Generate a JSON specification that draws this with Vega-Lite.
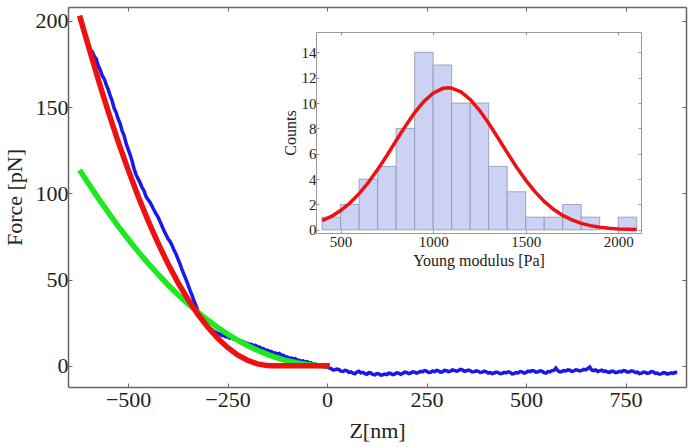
{
  "$schema": "https://vega.github.io/schema/vega-lite/v6.json",
  "width": 618,
  "height": 380,
  "autosize": "none",
  "padding": {"left": 68, "top": 7, "right": 7, "bottom": 60},
  "background": "white",
  "config": {
    "font": "Liberation Serif",
    "view": {"stroke": null},
    "text": {"font": "Liberation Serif"},
    "axis": {"grid": false, "zindex": 1, "labelFont": "Liberation Serif", "titleFont": "Liberation Serif", "titleFontWeight": "normal", "labelColor": "#222", "titleColor": "#222"}
  },
  "datasets": {
    "blue": [
      {"z":-592,"F":183},{"z":-585,"F":179.5},{"z":-580,"F":177.8},{"z":-575,"F":174},{"z":-570,"F":171.5},{"z":-565,"F":168.2},{"z":-560,"F":166.4},{"z":-555,"F":163},{"z":-550,"F":160.2},{"z":-545,"F":156.6},{"z":-540,"F":153.5},{"z":-535,"F":149.2},{"z":-530,"F":146.8},{"z":-525,"F":143.1},{"z":-520,"F":140.4},{"z":-515,"F":136.2},{"z":-510,"F":133.5},{"z":-505,"F":128.9},{"z":-500,"F":125.6},{"z":-495,"F":122.4},{"z":-490,"F":118.7},{"z":-485,"F":114.2},{"z":-480,"F":110.8},{"z":-475,"F":108.5},{"z":-470,"F":106.2},{"z":-465,"F":103.4},{"z":-460,"F":101.5},{"z":-455,"F":98.1},{"z":-450,"F":96.4},{"z":-445,"F":94.8},{"z":-440,"F":92.6},{"z":-435,"F":90.3},{"z":-430,"F":88.2},{"z":-425,"F":86.4},{"z":-420,"F":83.7},{"z":-415,"F":81.2},{"z":-410,"F":78.4},{"z":-405,"F":76.1},{"z":-400,"F":73.8},{"z":-395,"F":72.3},{"z":-390,"F":70.1},{"z":-385,"F":67.2},{"z":-380,"F":65.0},{"z":-375,"F":62.1},{"z":-370,"F":59.3},{"z":-365,"F":56.0},{"z":-360,"F":53.2},{"z":-355,"F":50.4},{"z":-350,"F":47.3},{"z":-345,"F":44.1},{"z":-340,"F":41.2},{"z":-335,"F":38.0},{"z":-330,"F":35.1},{"z":-325,"F":32.2},{"z":-320,"F":29.4},{"z":-315,"F":27.6},{"z":-310,"F":26.0},{"z":-305,"F":24.1},{"z":-300,"F":23.0},{"z":-295,"F":21.6},{"z":-290,"F":21.1},{"z":-285,"F":20.0},{"z":-280,"F":19.6},{"z":-275,"F":18.7},{"z":-270,"F":18.6},{"z":-265,"F":17.6},{"z":-260,"F":17.7},{"z":-255,"F":16.8},{"z":-250,"F":16.9},{"z":-245,"F":16.1},{"z":-240,"F":16.4},{"z":-235,"F":15.5},{"z":-230,"F":15.8},{"z":-225,"F":14.9},{"z":-220,"F":14.7},{"z":-215,"F":14.2},{"z":-210,"F":13.9},{"z":-205,"F":13.2},{"z":-200,"F":13.1},{"z":-195,"F":12.4},{"z":-190,"F":12.5},{"z":-185,"F":11.7},{"z":-180,"F":11.9},{"z":-175,"F":11.0},{"z":-170,"F":10.9},{"z":-165,"F":10.1},{"z":-160,"F":9.9},{"z":-155,"F":9.2},{"z":-150,"F":9.1},{"z":-145,"F":8.4},{"z":-140,"F":8.3},{"z":-135,"F":7.5},{"z":-130,"F":7.4},{"z":-125,"F":6.8},{"z":-120,"F":7.2},{"z":-115,"F":6.2},{"z":-110,"F":6.1},{"z":-105,"F":5.3},{"z":-100,"F":5.1},{"z":-95,"F":4.4},{"z":-90,"F":4.5},{"z":-85,"F":3.9},{"z":-80,"F":4.2},{"z":-75,"F":3.4},{"z":-70,"F":3.3},{"z":-65,"F":2.6},{"z":-60,"F":2.8},{"z":-55,"F":2.1},{"z":-50,"F":2.4},{"z":-45,"F":1.6},{"z":-40,"F":1.7},{"z":-35,"F":0.9},{"z":-30,"F":1.0},{"z":-25,"F":0.4},{"z":-20,"F":0.6},{"z":-15,"F":-0.2},{"z":-10,"F":0.1},{"z":-5,"F":-0.8},{"z":0,"F":-0.5},
      {"z":5,"F":-1.2},{"z":10,"F":-1.6},{"z":15,"F":-2.4},{"z":20,"F":-2.3},{"z":25,"F":-1.9},{"z":30,"F":-2.2},{"z":35,"F":-3.1},{"z":40,"F":-3.3},{"z":45,"F":-2.6},{"z":50,"F":-2.9},{"z":55,"F":-3.8},{"z":60,"F":-3.5},{"z":65,"F":-4.3},{"z":70,"F":-4.6},{"z":75,"F":-3.6},{"z":80,"F":-3.2},{"z":85,"F":-4.1},{"z":90,"F":-3.8},{"z":95,"F":-4.6},{"z":100,"F":-4.9},{"z":105,"F":-4.0},{"z":110,"F":-4.2},{"z":115,"F":-5.0},{"z":120,"F":-5.3},{"z":125,"F":-4.5},{"z":130,"F":-4.7},{"z":135,"F":-5.4},{"z":140,"F":-5.2},{"z":145,"F":-4.8},{"z":150,"F":-5.1},{"z":155,"F":-4.3},{"z":160,"F":-4.5},{"z":165,"F":-5.1},{"z":170,"F":-4.8},{"z":175,"F":-4.1},{"z":180,"F":-4.3},{"z":185,"F":-4.9},{"z":190,"F":-4.5},{"z":195,"F":-3.7},{"z":200,"F":-3.9},{"z":205,"F":-4.5},{"z":210,"F":-4.2},{"z":215,"F":-3.5},{"z":220,"F":-3.7},{"z":225,"F":-4.3},{"z":230,"F":-3.9},{"z":235,"F":-3.2},{"z":240,"F":-3.5},{"z":245,"F":-2.8},{"z":250,"F":-3.1},{"z":255,"F":-3.9},{"z":260,"F":-3.8},{"z":265,"F":-3.0},{"z":270,"F":-3.4},{"z":275,"F":-2.7},{"z":280,"F":-3.0},{"z":285,"F":-3.7},{"z":290,"F":-3.5},{"z":295,"F":-2.6},{"z":300,"F":-2.8},{"z":305,"F":-3.4},{"z":310,"F":-3.1},{"z":315,"F":-2.4},{"z":320,"F":-2.7},{"z":325,"F":-3.1},{"z":330,"F":-2.8},{"z":335,"F":-2.1},{"z":340,"F":-2.4},{"z":345,"F":-3.2},{"z":350,"F":-2.9},{"z":355,"F":-2.5},{"z":360,"F":-2.9},{"z":365,"F":-3.6},{"z":370,"F":-3.4},{"z":375,"F":-2.9},{"z":380,"F":-3.2},{"z":385,"F":-3.9},{"z":390,"F":-3.7},{"z":395,"F":-3.1},{"z":400,"F":-3.5},{"z":405,"F":-4.2},{"z":410,"F":-3.9},{"z":415,"F":-4.5},{"z":420,"F":-4.2},{"z":425,"F":-3.6},{"z":430,"F":-3.9},{"z":435,"F":-4.6},{"z":440,"F":-4.4},{"z":445,"F":-3.8},{"z":450,"F":-4.1},{"z":455,"F":-3.5},{"z":460,"F":-3.8},{"z":465,"F":-4.7},{"z":470,"F":-4.5},{"z":475,"F":-3.9},{"z":480,"F":-4.1},{"z":485,"F":-3.3},{"z":490,"F":-3.5},{"z":495,"F":-4.2},{"z":500,"F":-3.9},{"z":505,"F":-3.1},{"z":510,"F":-3.4},{"z":515,"F":-2.8},{"z":520,"F":-3.0},{"z":525,"F":-3.7},{"z":530,"F":-3.5},{"z":535,"F":-2.9},{"z":540,"F":-3.1},{"z":545,"F":-4.0},{"z":550,"F":-4.3},{"z":555,"F":-3.4},{"z":560,"F":-3.6},{"z":565,"F":-2.8},{"z":570,"F":-2.7},{"z":575,"F":-1.3},{"z":580,"F":-2.9},{"z":585,"F":-3.6},{"z":590,"F":-3.3},{"z":595,"F":-2.8},{"z":600,"F":-3.0},{"z":605,"F":-2.4},{"z":610,"F":-2.6},{"z":615,"F":-3.3},{"z":620,"F":-3.0},{"z":625,"F":-2.3},{"z":630,"F":-2.5},{"z":635,"F":-3.0},{"z":640,"F":-2.7},{"z":645,"F":-2.1},{"z":650,"F":-2.4},{"z":655,"F":-1.6},{"z":660,"F":-0.7},{"z":665,"F":-2.4},{"z":670,"F":-2.8},{"z":675,"F":-2.4},{"z":680,"F":-3.3},{"z":685,"F":-2.9},{"z":690,"F":-2.5},{"z":695,"F":-3.2},{"z":700,"F":-3.0},{"z":705,"F":-3.6},{"z":710,"F":-3.8},{"z":715,"F":-3.1},{"z":720,"F":-3.3},{"z":725,"F":-4.0},{"z":730,"F":-3.8},{"z":735,"F":-3.2},{"z":740,"F":-3.5},{"z":745,"F":-2.8},{"z":750,"F":-3.0},{"z":755,"F":-3.7},{"z":760,"F":-3.5},{"z":765,"F":-2.9},{"z":770,"F":-3.2},{"z":775,"F":-3.9},{"z":780,"F":-3.7},{"z":785,"F":-4.5},{"z":790,"F":-4.3},{"z":795,"F":-3.6},{"z":800,"F":-3.8},{"z":805,"F":-4.4},{"z":810,"F":-4.1},{"z":815,"F":-3.4},{"z":820,"F":-3.6},{"z":825,"F":-4.4},{"z":830,"F":-4.2},{"z":835,"F":-4.9},{"z":840,"F":-4.7},{"z":845,"F":-4.0},{"z":850,"F":-4.2},{"z":855,"F":-4.8},{"z":860,"F":-4.5},{"z":865,"F":-4.1},{"z":870,"F":-4.4},{"z":875,"F":-3.8},{"z":880,"F":-4.0}
    ],
    "green": [
      {"z":-622,"F":113.5},{"z":-600,"F":105.8},{"z":-575,"F":97.2},{"z":-550,"F":88.9},{"z":-525,"F":81.0},{"z":-500,"F":73.5},{"z":-475,"F":66.3},{"z":-450,"F":59.5},{"z":-425,"F":53.1},{"z":-400,"F":47.0},{"z":-375,"F":41.3},{"z":-350,"F":36.0},{"z":-325,"F":31.1},{"z":-300,"F":26.5},{"z":-275,"F":22.2},{"z":-250,"F":18.4},{"z":-225,"F":14.9},{"z":-200,"F":11.8},{"z":-175,"F":9.0},{"z":-150,"F":6.6},{"z":-125,"F":4.6},{"z":-100,"F":2.9},{"z":-75,"F":1.7},{"z":-50,"F":0.7},{"z":-25,"F":0.2},{"z":0,"F":0}
    ],
    "red": [
      {"z":-622,"F":203},{"z":-600,"F":185.6},{"z":-575,"F":166.0},{"z":-550,"F":147.4},{"z":-525,"F":130.0},{"z":-500,"F":113.7},{"z":-475,"F":98.4},{"z":-450,"F":84.3},{"z":-425,"F":71.2},{"z":-400,"F":59.3},{"z":-375,"F":48.4},{"z":-350,"F":38.7},{"z":-325,"F":30.0},{"z":-300,"F":22.5},{"z":-275,"F":16.0},{"z":-250,"F":10.6},{"z":-225,"F":6.3},{"z":-200,"F":3.2},{"z":-175,"F":1.1},{"z":-150,"F":0.1},{"z":-140,"F":0},{"z":7,"F":0}
    ],
    "hist": [
      {"lo":400,"hi":500,"count":1},{"lo":500,"hi":600,"count":2},{"lo":600,"hi":700,"count":4},{"lo":700,"hi":800,"count":5},{"lo":800,"hi":900,"count":8},{"lo":900,"hi":1000,"count":14},{"lo":1000,"hi":1100,"count":13},{"lo":1100,"hi":1200,"count":10},{"lo":1200,"hi":1300,"count":10},{"lo":1300,"hi":1400,"count":5},{"lo":1400,"hi":1500,"count":3},{"lo":1500,"hi":1600,"count":1},{"lo":1600,"hi":1700,"count":1},{"lo":1700,"hi":1800,"count":2},{"lo":1800,"hi":1900,"count":1},{"lo":2000,"hi":2100,"count":1}
    ],
    "gauss": [
      {"E":400,"c":0.72},{"E":450,"c":1.06},{"E":500,"c":1.52},{"E":550,"c":2.11},{"E":600,"c":2.85},{"E":650,"c":3.73},{"E":700,"c":4.75},{"E":750,"c":5.86},{"E":800,"c":7.03},{"E":850,"c":8.18},{"E":900,"c":9.24},{"E":950,"c":10.13},{"E":1000,"c":10.78},{"E":1050,"c":11.14},{"E":1080,"c":11.2},{"E":1100,"c":11.17},{"E":1150,"c":10.88},{"E":1200,"c":10.28},{"E":1250,"c":9.43},{"E":1300,"c":8.4},{"E":1350,"c":7.26},{"E":1400,"c":6.09},{"E":1450,"c":4.96},{"E":1500,"c":3.92},{"E":1550,"c":3.01},{"E":1600,"c":2.24},{"E":1650,"c":1.62},{"E":1700,"c":1.14},{"E":1750,"c":0.78},{"E":1800,"c":0.51},{"E":1850,"c":0.33},{"E":1900,"c":0.21},{"E":1950,"c":0.12},{"E":2000,"c":0.07},{"E":2050,"c":0.04},{"E":2100,"c":0.02}
    ]
  },
  "layer": [
    {
      "layer": [
        {
          "data": {"name": "blue"},
          "mark": {"type": "line", "color": "#1a1ae8", "strokeWidth": 3.5},
          "encoding": {
            "x": {"field": "z", "type": "quantitative", "scale": {"domain": [-651, 902], "nice": false, "zero": false},
              "axis": {"orient": "bottom", "values": [-500, -250, 0, 250, 500, 750], "title": "Z[nm]", "tickSize": -4, "labelPadding": 6, "labelFontSize": 22, "titleFontSize": 22, "titlePadding": 10, "domainColor": "#666", "tickColor": "#666", "domainWidth": 1.5}},
            "y": {"field": "F", "type": "quantitative", "scale": {"domain": [-12.3, 208], "nice": false, "zero": false},
              "axis": {"orient": "left", "values": [0, 50, 100, 150, 200], "title": "Force [pN]", "tickSize": -4, "labelPadding": 4, "labelFontSize": 22, "titleFontSize": 22, "titlePadding": 9, "domainColor": "#666", "tickColor": "#666", "domainWidth": 1.5}}
          }
        },
        {
          "data": {"name": "green"},
          "mark": {"type": "line", "color": "#1ee81e", "strokeWidth": 5.5},
          "encoding": {
            "x": {"field": "z", "type": "quantitative", "scale": {"domain": [-651, 902], "nice": false, "zero": false},
              "axis": {"orient": "top", "values": [-500, -250, 0, 250, 500, 750], "labels": false, "title": null, "tickSize": -4, "domainColor": "#666", "tickColor": "#666", "domainWidth": 1.5}},
            "y": {"field": "F", "type": "quantitative", "scale": {"domain": [-12.3, 208], "nice": false, "zero": false},
              "axis": {"orient": "right", "values": [0, 50, 100, 150, 200], "labels": false, "title": null, "tickSize": -4, "domainColor": "#666", "tickColor": "#666", "domainWidth": 1.5}}
          }
        },
        {
          "data": {"name": "red"},
          "mark": {"type": "line", "color": "#ee1111", "strokeWidth": 5.5},
          "encoding": {
            "x": {"field": "z", "type": "quantitative", "scale": {"domain": [-651, 902], "nice": false, "zero": false}, "axis": null},
            "y": {"field": "F", "type": "quantitative", "scale": {"domain": [-12.3, 208], "nice": false, "zero": false}, "axis": null}
          }
        }
      ],
      "resolve": {"axis": {"x": "independent", "y": "independent"}}
    },
    {
      "layer": [
        {
          "data": {"name": "hist"},
          "mark": {"type": "bar", "fill": "#ccd2f3", "stroke": "#8f93ad", "strokeWidth": 0.8},
          "encoding": {
            "x": {"field": "lo", "type": "quantitative", "scale": {"domain": [367, 2123], "range": [248, 573], "nice": false, "zero": false},
              "axis": {"orient": "bottom", "offset": -154, "values": [500, 1000, 1500, 2000], "format": "d", "title": "Young modulus [Pa]", "tickSize": -3, "labelPadding": 4, "labelFontSize": 15, "titleFontSize": 16, "titlePadding": 3, "domainColor": "#999", "tickColor": "#999"}},
            "x2": {"field": "hi"},
            "y": {"field": "count", "type": "quantitative", "scale": {"domain": [-0.25, 15.6], "range": [226, 25], "nice": false, "zero": false},
              "axis": {"orient": "left", "offset": -248, "values": [0, 2, 4, 6, 8, 10, 12, 14], "title": "Counts", "tickSize": -3, "labelPadding": 3, "labelFontSize": 15, "titleFontSize": 16, "titlePadding": 3, "domainColor": "#999", "tickColor": "#999"}},
            "y2": {"datum": 0}
          }
        },
        {
          "data": {"name": "gauss"},
          "mark": {"type": "line", "color": "#ee1111", "strokeWidth": 3.5},
          "encoding": {
            "x": {"field": "E", "type": "quantitative", "scale": {"domain": [367, 2123], "range": [248, 573], "nice": false, "zero": false},
              "axis": {"orient": "top", "offset": -25, "values": [500, 1000, 1500, 2000], "labels": false, "title": null, "tickSize": -3, "domainColor": "#999", "tickColor": "#999"}},
            "y": {"field": "c", "type": "quantitative", "scale": {"domain": [-0.25, 15.6], "range": [226, 25], "nice": false, "zero": false},
              "axis": {"orient": "right", "offset": -45, "values": [0, 2, 4, 6, 8, 10, 12, 14], "labels": false, "title": null, "tickSize": -3, "domainColor": "#999", "tickColor": "#999"}}
          }
        }
      ],
      "resolve": {"axis": {"x": "independent", "y": "independent"}}
    }
  ],
  "resolve": {"scale": {"x": "independent", "y": "independent"}}
}
